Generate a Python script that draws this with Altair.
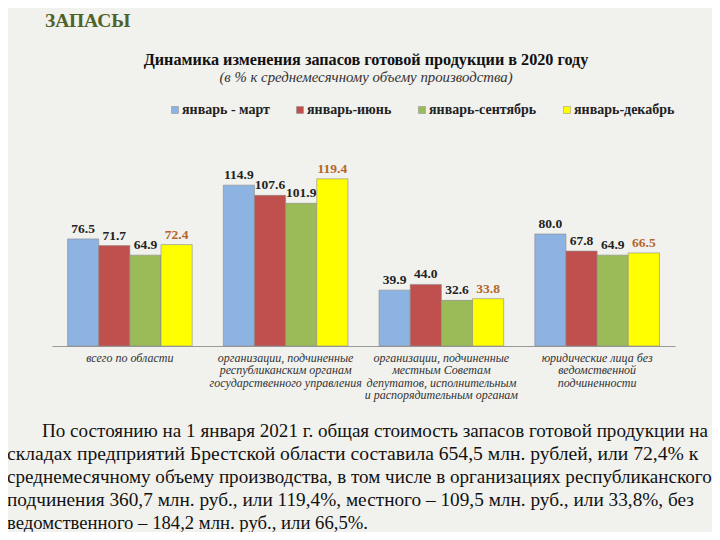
import altair as alt
import pandas as pd

categories = [
    "всего по области",
    "организации, подчиненные|республиканским органам|государственного управления",
    "организации, подчиненные|местным Советам|депутатов, исполнительным|и распорядительным органам",
    "юридические лица без|ведомственной|подчиненности",
]
series = ["январь - март", "январь-июнь", "январь-сентябрь", "январь-декабрь"]
jan_mar = [76.5, 114.9, 39.9, 80.0]
jan_jun = [71.7, 107.6, 44.0, 67.8]
jan_sep = [64.9, 101.9, 32.6, 64.9]
jan_dec = [72.4, 119.4, 33.8, 66.5]
colors = ["#8DB3E2", "#C0504D", "#9BBB59", "#FFFF00"]

heading = "ЗАПАСЫ"
title = "Динамика изменения запасов готовой продукции в 2020 году"
subtitle = "(в % к среднемесячному объему производства)"
paragraph = [
    "По состоянию на 1 января 2021 г. общая стоимость запасов готовой продукции на",
    "складах предприятий Брестской области составила 654,5 млн. рублей, или 72,4% к",
    "среднемесячному объему производства, в том числе в организациях республиканского",
    "подчинения 360,7 млн. руб., или 119,4%, местного – 109,5 млн. руб., или 33,8%, без",
    "ведомственного – 184,2 млн. руб., или 66,5%.",
]

rows = []
for s, vals in zip(series, [jan_mar, jan_jun, jan_sep, jan_dec]):
    for c, v in zip(categories, vals):
        rows.append({"cat": c, "series": s, "value": v})
df = pd.DataFrame(rows)

SERIF = "Liberation Serif"

x = alt.X(
    "cat:N",
    sort=categories,
    scale=alt.Scale(paddingInner=0.2, paddingOuter=0.1),
    axis=alt.Axis(
        title=None,
        labelAngle=0,
        labelExpr="split(datum.label, '|')",
        labelFont=SERIF,
        labelFontStyle="italic",
        labelFontSize=12,
        labelColor="#333333",
        labelPadding=6,
        labelLineHeight=12.5,
        labelLimit=0,
        ticks=False,
        domainColor="#9a9a9a",
        domainWidth=1.2,
    ),
)
y = alt.Y("value:Q", scale=alt.Scale(domain=[0, 130], nice=False), axis=None)
xo = alt.XOffset("series:N", sort=series, scale=alt.Scale(paddingInner=0, paddingOuter=0))

bars = alt.Chart(df).mark_bar(stroke="#8a8a8a", strokeWidth=0.6).encode(
    x=x,
    xOffset=xo,
    y=y,
    color=alt.Color(
        "series:N",
        sort=series,
        scale=alt.Scale(domain=series, range=colors),
        legend=alt.Legend(
            title=None,
            orient="none",
            legendX=116,
            legendY=-61,
            padding=0,
            direction="horizontal",
            symbolType="square",
            symbolSize=49,
            symbolStrokeWidth=0.5,
            labelFont=SERIF,
            labelFontWeight="bold",
            labelFontSize=14,
            labelColor="#222222",
            labelOffset=0,
            columnPadding=23,
        ),
    ),
)

labels = alt.Chart(df).mark_text(
    baseline="bottom", dy=-3, font=SERIF, fontWeight="bold", fontSize=13.5
).encode(
    x=x,
    xOffset=xo,
    y=y,
    text=alt.Text("value:Q", format=".1f"),
    color=alt.condition(
        alt.datum.series == "январь-декабрь", alt.value("#B5652A"), alt.value("#222222")
    ),
)


def txt(text, px, py, **kw):
    return alt.Chart(pd.DataFrame({"t": [text]})).mark_text(**kw).encode(
        x=alt.value(px), y=alt.value(py), text="t:N"
    )


layers = [bars, labels]
layers.append(txt(heading, -7, -137, align="left", baseline="alphabetic", font=SERIF,
                  fontWeight="bold", fontSize=19.5, color="#4F6228"))
layers.append(txt(title, 314, -99, align="center", baseline="alphabetic", font=SERIF,
                  fontWeight="bold", fontSize=16.2, color="#111111"))
layers.append(txt(subtitle, 314, -82, align="center", baseline="alphabetic", font=SERIF,
                  fontStyle="italic", fontSize=14.8, color="#333333"))

line_y = [267, 290, 313, 336, 359]
line_size = [19.1, 19.6, 19.1, 19.3, 18.7]
for i, (line, ly, fs) in enumerate(zip(paragraph, line_y, line_size)):
    layers.append(txt(line, -10 if i == 0 else -45, ly, align="left", baseline="middle",
                      font=SERIF, fontSize=fs, color="#111111"))

chart = alt.layer(*layers).properties(
    width=623,
    height=182,
    autosize=alt.AutoSizeParams(type="none"),
    padding={"left": 44, "top": 156, "right": 37, "bottom": 186},
    background="#F1F1EE",
).configure_view(stroke=None)

chart.save("out.html", embed_options={"renderer": "svg", "actions": False})
